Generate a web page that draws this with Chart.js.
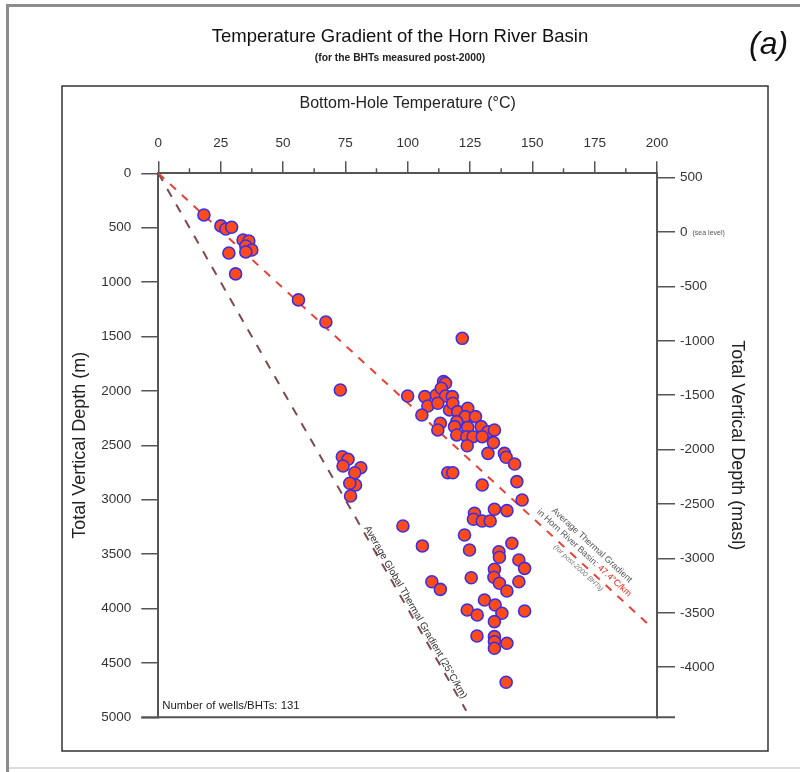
<!DOCTYPE html>
<html>
<head>
<meta charset="utf-8">
<title>Temperature Gradient of the Horn River Basin</title>
<script src="https://cdn.jsdelivr.net/npm/chart.js@4.4.0/dist/chart.umd.min.js"></script>
<style>
  html, body { margin: 0; padding: 0; background: #fff; }
  #wrap { width: 800px; height: 772px; }
</style>
</head>
<body>
<div id="wrap"><canvas id="gradientChart" width="800" height="772"></canvas></div>
<script>
// Bottom-hole temperatures (°C) and true vertical depths (m)
const bhtTemp = [
    18.3, 25.1, 27.1, 29.4, 34.0, 36.3, 35.1, 37.5, 35.1, 28.3, 31.0, 56.2, 67.2, 73.0,
    73.8, 76.1, 74.1, 81.2, 78.8, 79.1, 76.8, 77.1,
    121.9, 100.0, 106.9, 108.1, 105.7, 111.5, 114.4, 115.2, 113.5, 115.2, 117.9, 112.1,
    116.8, 118.1, 120.1, 124.1, 123.1, 127.2, 119.7, 118.8, 124.1, 129.5, 132.2, 134.8,
    119.7, 123.7, 126.2, 129.9, 134.4, 123.9, 132.2, 113.1, 112.1, 138.8, 139.5, 142.9,
    143.8, 129.9, 116.1, 118.1, 145.9,
    134.8, 139.8, 126.8, 126.4, 129.9, 133.1, 98.1, 122.8, 141.8, 105.9, 124.8, 136.6,
    136.8, 144.6, 146.9, 134.8, 134.6, 136.8, 125.5, 144.6, 139.8, 109.7, 113.1, 130.8,
    135.1, 137.8, 123.9, 127.9, 134.8, 146.9, 127.8, 134.8, 134.8, 134.8, 139.8, 139.5
];
const bhtDepth = [
    383, 484, 512, 496, 613, 622, 668, 705, 723, 733, 925, 1164, 1367, 1992,
    2605, 2629, 2690, 2706, 2752, 2865, 2849, 2966,
    1517, 2047, 2053, 2139, 2222, 2038, 1915, 1930, 1976, 2047, 2053, 2114,
    2175, 2114, 2191, 2160, 2237, 2237, 2283, 2329, 2335, 2329, 2375, 2359,
    2405, 2421, 2421, 2421, 2476, 2504, 2574, 2298, 2359, 2574, 2610, 2672,
    2834, 2865, 2752, 2752, 3003,
    3088, 3101, 3125, 3180, 3196, 3196, 3242, 3325, 3401, 3425, 3462, 3478,
    3529, 3554, 3631, 3640, 3713, 3768, 3717, 3754, 3839, 3754, 3824, 3922,
    3968, 4044, 4014, 4060, 4121, 4023, 4253, 4259, 4305, 4366, 4320, 4678
];

// Gradient lines: Horn River average (47.4 °C/km) and global average (25 °C/km)
const hornLineTemp = [0, 196];
const hornLineDepth = [0, 4135];
const globalLineTemp = [0, 123.5];
const globalLineDepth = [0, 4940];

// Axis ticks
const tempTicks = [0, 25, 50, 75, 100, 125, 150, 175, 200];
const tempMinorTicks = [12.5, 37.5, 62.5, 87.5, 112.5, 137.5, 162.5, 187.5];
const depthTicks = [0, 500, 1000, 1500, 2000, 2500, 3000, 3500, 4000, 4500, 5000];
const elevationTicks = [500, 0, -500, -1000, -1500, -2000, -2500, -3000, -3500, -4000];
const surfaceElevation = 540; // masl at depth 0

const FAMILY = "'Liberation Sans', Arial, sans-serif";
const TICK_SIZE = 13.5;

function toPoints(xs, ys) {
    return xs.map((x, i) => ({ x: x, y: ys[i] }));
}

/**
 * Draw text along a line given in pixels, offset along and across it
 */
function labelAlong(ctx, p0, p1, along, perp, parts, font) {
    const a = Math.atan2(p1.y - p0.y, p1.x - p0.x);
    ctx.save();
    ctx.translate(p0.x, p0.y);
    ctx.rotate(a);
    ctx.font = font;
    ctx.textAlign = 'left';
    ctx.textBaseline = 'middle';
    let x = along;
    parts.forEach(([text, color]) => {
        ctx.fillStyle = color;
        ctx.fillText(text, x, -perp);
        x += ctx.measureText(text).width;
    });
    ctx.restore();
}

const framePlugin = {
    id: 'frame',
    beforeDraw(chart) {
        const ctx = chart.ctx;
        ctx.save();
        ctx.fillStyle = '#fff';
        ctx.fillRect(0, 0, chart.width, chart.height);
        // page frame
        ctx.strokeStyle = '#8c8c8c';
        ctx.lineWidth = 3;
        ctx.beginPath();
        ctx.moveTo(7.5, 772);
        ctx.lineTo(7.5, 5.5);
        ctx.lineTo(800, 5.5);
        ctx.stroke();
        ctx.strokeStyle = '#dcdcdc';
        ctx.lineWidth = 2;
        ctx.beginPath();
        ctx.moveTo(9, 768);
        ctx.lineTo(800, 768);
        ctx.stroke();
        // chart box
        ctx.strokeStyle = '#333';
        ctx.lineWidth = 1.5;
        ctx.strokeRect(62, 86, 706, 665);
        // panel letter
        ctx.fillStyle = '#111';
        ctx.font = 'italic 32px ' + FAMILY;
        ctx.textAlign = 'left';
        ctx.textBaseline = 'alphabetic';
        ctx.fillText('(a)', 749, 54);
        ctx.restore();
    },
    afterDraw(chart) {
        const ctx = chart.ctx;
        const area = chart.chartArea;
        const xs = chart.scales.x;
        const ys = chart.scales.y;
        const y2 = chart.scales.y2;
        ctx.save();

        // minor ticks on the temperature axis
        ctx.strokeStyle = '#555';
        ctx.lineWidth = 1.5;
        tempMinorTicks.forEach(v => {
            const px = xs.getPixelForValue(v);
            ctx.beginPath();
            ctx.moveTo(px, area.top);
            ctx.lineTo(px, area.top - 5);
            ctx.stroke();
        });

        // bottom line of the plot
        ctx.strokeStyle = '#555';
        ctx.lineWidth = 2;
        ctx.beginPath();
        ctx.moveTo(area.left - 17, area.bottom);
        ctx.lineTo(area.right + 18, area.bottom);
        ctx.stroke();

        // "(sea level)" next to the 0 masl label
        ctx.font = TICK_SIZE + 'px ' + FAMILY;
        const zeroW = ctx.measureText('0').width;
        ctx.font = '7px ' + FAMILY;
        ctx.fillStyle = '#555';
        ctx.textAlign = 'left';
        ctx.textBaseline = 'middle';
        ctx.fillText('(sea level)', area.right + 18 + 5 + zeroW + 5, y2.getPixelForValue(0) + 1);

        // well count
        ctx.font = '11.4px ' + FAMILY;
        ctx.fillStyle = '#222';
        ctx.fillText('Number of wells/BHTs: 131', area.left + 4, area.bottom - 11);

        // line labels
        const origin = { x: xs.getPixelForValue(0), y: ys.getPixelForValue(0) };
        const hornEnd = { x: xs.getPixelForValue(hornLineTemp[1]), y: ys.getPixelForValue(hornLineDepth[1]) };
        const globalEnd = { x: xs.getPixelForValue(globalLineTemp[1]), y: ys.getPixelForValue(globalLineDepth[1]) };

        labelAlong(ctx, origin, hornEnd, 518, 20, [['Average Thermal Gradient', '#555']], '9px ' + FAMILY);
        labelAlong(ctx, origin, hornEnd, 508, 9, [['in Horn River Basin: ', '#555'], ['47.4°C/km', '#e8281e']], '9px ' + FAMILY);
        labelAlong(ctx, origin, hornEnd, 544, -6, [['(for post-2000 BHTs)', '#777']], 'italic 7px ' + FAMILY);
        labelAlong(ctx, origin, globalEnd, 410, 5, [['Average Global Thermal Gradient (25°C/km)', '#333']], '10px ' + FAMILY);

        ctx.restore();
    }
};

const tickFont = { family: FAMILY, size: TICK_SIZE };
const plainLabel = v => String(v);
const axisGrid = { drawOnChartArea: false, color: '#555', lineWidth: 1.5 };
const axisBorder = { color: '#555', width: 2 };

new Chart(document.getElementById('gradientChart'), {
    type: 'scatter',
    data: {
        datasets: [
            {
                label: 'BHT',
                data: toPoints(bhtTemp, bhtDepth),
                xAxisID: 'x',
                yAxisID: 'y',
                pointRadius: 6,
                pointBorderWidth: 1.6,
                backgroundColor: '#ff4b1a',
                borderColor: '#3c2ee6',
                order: 0
            },
            {
                type: 'line',
                label: 'Horn River gradient',
                data: toPoints(hornLineTemp, hornLineDepth),
                xAxisID: 'x',
                yAxisID: 'y',
                borderColor: '#e8413a',
                borderWidth: 2,
                borderDash: [8, 8],
                pointRadius: 0,
                fill: false,
                order: 1
            },
            {
                type: 'line',
                label: 'Global gradient',
                data: toPoints(globalLineTemp, globalLineDepth),
                xAxisID: 'x',
                yAxisID: 'y',
                borderColor: '#7d4b4b',
                borderWidth: 2,
                borderDash: [9, 9],
                pointRadius: 0,
                fill: false,
                order: 1
            }
        ]
    },
    options: {
        responsive: false,
        animation: false,
        layout: { padding: { left: 0, right: 0, top: 0, bottom: 54.7 } },
        plugins: {
            legend: { display: false },
            tooltip: { enabled: false },
            title: {
                display: true,
                text: 'Temperature Gradient of the Horn River Basin',
                font: { family: FAMILY, size: 18.5, weight: 'normal' },
                color: '#111',
                padding: { top: 25.9, bottom: 0 }
            },
            subtitle: {
                display: true,
                text: '(for the BHTs measured post-2000)',
                font: { family: FAMILY, size: 10.3, weight: 'bold' },
                color: '#222',
                padding: { top: 3.7, bottom: 0 }
            }
        },
        scales: {
            x: {
                type: 'linear',
                position: 'top',
                min: 0,
                max: 200,
                afterBuildTicks: s => { s.ticks = tempTicks.map(v => ({ value: v })); },
                afterFit: s => { s.height = 109.1; },
                title: {
                    display: true,
                    text: 'Bottom-Hole Temperature (°C)',
                    font: { family: FAMILY, size: 16 },
                    color: '#222',
                    padding: { top: 30.2, bottom: 0 }
                },
                ticks: { font: tickFont, color: '#333', padding: 10, maxRotation: 0, autoSkip: false, callback: plainLabel },
                grid: Object.assign({ tickLength: 12 }, axisGrid),
                border: axisBorder
            },
            y: {
                type: 'linear',
                position: 'left',
                reverse: true,
                min: 0,
                max: 5000,
                afterBuildTicks: s => { s.ticks = depthTicks.map(v => ({ value: v })); },
                afterFit: s => { s.width = 158.3; },
                title: {
                    display: true,
                    text: 'Total Vertical Depth (m)',
                    font: { family: FAMILY, size: 18 },
                    color: '#222',
                    padding: { top: 69.2, bottom: 0 }
                },
                ticks: { font: tickFont, color: '#333', padding: 10, autoSkip: false, callback: plainLabel },
                grid: Object.assign({ tickLength: 17 }, axisGrid),
                border: axisBorder
            },
            y2: {
                type: 'linear',
                position: 'right',
                min: surfaceElevation - 5000,
                max: surfaceElevation,
                afterBuildTicks: s => { s.ticks = elevationTicks.map(v => ({ value: v })); },
                afterFit: s => { s.width = 143; },
                title: {
                    display: true,
                    text: 'Total Vertical Depth (masl)',
                    font: { family: FAMILY, size: 18 },
                    color: '#222',
                    padding: { top: 52.2, bottom: 0 }
                },
                ticks: { font: tickFont, color: '#333', padding: 5, autoSkip: false, callback: plainLabel },
                grid: Object.assign({ tickLength: 18 }, axisGrid),
                border: axisBorder
            }
        }
    },
    plugins: [framePlugin]
});
</script>
</body>
</html>
